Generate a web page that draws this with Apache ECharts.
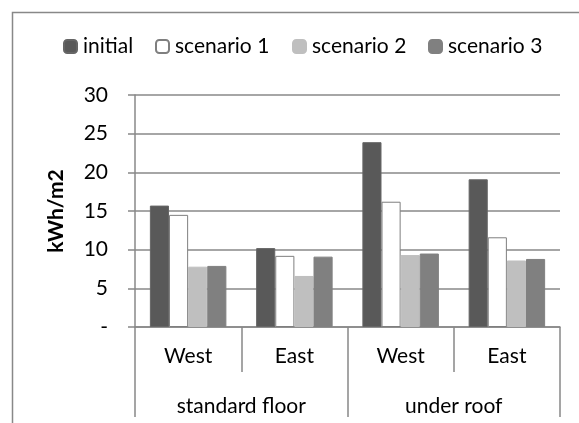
<!DOCTYPE html>
<html>
<head>
<meta charset="utf-8">
<script src="https://cdn.jsdelivr.net/npm/echarts@6/dist/echarts.min.js"></script>
<style>
  html, body { margin: 0; padding: 0; background: #fff; }
  #chart { width: 579px; height: 423px; }
</style>
</head>
<body>
<div id="chart"></div>
<script>
// Orientation (inner level) and location (outer level) of the category axis
const orientations = ['West', 'East', 'West', 'East'];
const locations = ['standard floor', 'under roof'];

// Energy demand per series, kWh/m2
const seriesNames = ['initial', 'scenario 1', 'scenario 2', 'scenario 3'];
const initial = [15.7, 10.2, 23.9, 19.1];
const scenario1 = [14.5, 9.2, 16.2, 11.6];
const scenario2 = [7.8, 6.6, 9.3, 8.6];
const scenario3 = [7.9, 9.1, 9.5, 8.8];

// Value axis ticks
const yTicks = [0, 5, 10, 15, 20, 25, 30];

const FONT = 'Lato';
const FS = 21;
const LINE = '#888888';

const seriesData = [initial, scenario1, scenario2, scenario3];
const fills = ['#595959', '#ffffff', '#bfbfbf', '#808080'];
const borders = ['#666666', '#7f7f7f', '#bfbfbf', '#808080'];
const legendLeft = [63, 155, 292, 428];

const chart = echarts.init(document.getElementById('chart'), null, { renderer: 'canvas' });

chart.setOption({
  animation: false,
  textStyle: { fontFamily: FONT },
  grid: { left: 135, right: 19, top: 95, bottom: 96, containLabel: false },
  graphic: [{
    type: 'rect',
    shape: { x: 12.5, y: 12.5, width: 700, height: 600 },
    style: { fill: 'none', stroke: LINE, lineWidth: 1.5 },
    silent: true
  }],
  legend: seriesNames.map((n, i) => ({
    data: [n],
    left: legendLeft[i],
    top: 36,
    padding: 0,
    itemWidth: 13,
    itemHeight: 13,
    itemGap: 0,
    selectedMode: false,
    textStyle: { fontFamily: FONT, fontSize: FS, color: '#000', padding: [0, 0, 0, 1] }
  })),
  xAxis: [{
    type: 'category',
    data: orientations,
    axisLine: { show: true, lineStyle: { color: LINE, width: 1.5 } },
    axisTick: { show: true, interval: 0, length: 45, lineStyle: { color: LINE, width: 1.5 } },
    axisLabel: { color: '#000', fontFamily: FONT, fontSize: FS, margin: 19 }
  }, {
    type: 'category',
    data: locations,
    position: 'bottom',
    axisLine: { show: false },
    axisTick: { show: true, interval: 0, length: 90, lineStyle: { color: LINE, width: 1.5 } },
    axisLabel: { color: '#000', fontFamily: FONT, fontSize: FS, margin: 69 }
  }],
  yAxis: {
    type: 'value',
    min: yTicks[0],
    max: yTicks[yTicks.length - 1],
    interval: 5,
    name: 'kWh/m2',
    nameLocation: 'middle',
    nameGap: 68,
    nameTextStyle: { color: '#000', fontFamily: FONT, fontSize: FS, fontWeight: 'bold' },
    axisLine: { show: true, lineStyle: { color: LINE, width: 1.5 } },
    axisTick: { show: true, length: 7, lineStyle: { color: LINE, width: 1.5 } },
    splitLine: { lineStyle: { color: LINE, width: 1.5 } },
    axisLabel: {
      color: '#000', fontFamily: FONT, fontSize: FS, margin: 27,
      formatter: v => (v === 0 ? '-' : String(v))
    }
  },
  series: seriesNames.map((n, i) => ({
    name: n,
    type: 'bar',
    data: seriesData[i],
    barGap: '0%',
    barCategoryGap: '28%',
    itemStyle: { color: fills[i], borderColor: borders[i], borderWidth: 1 }
  }))
});
</script>
</body>
</html>
